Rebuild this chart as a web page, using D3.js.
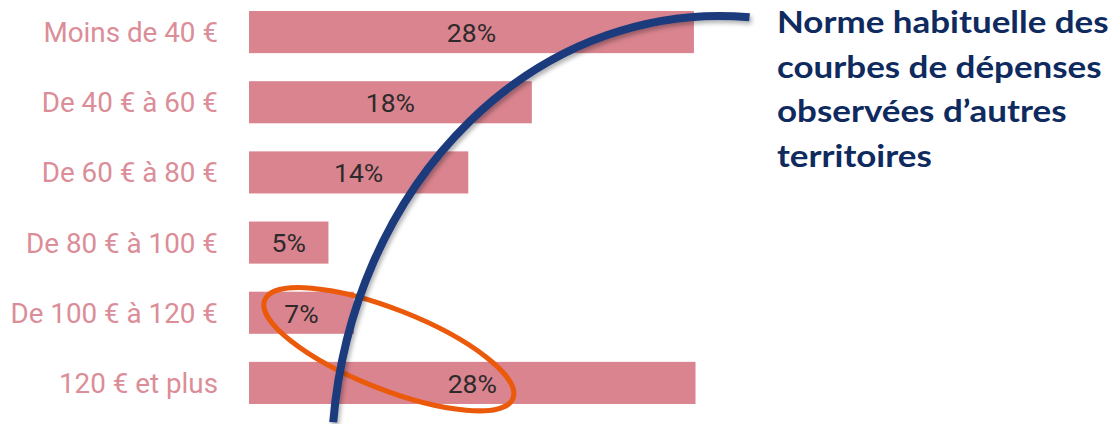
<!DOCTYPE html>
<html>
<head>
<meta charset="utf-8">
<script src="https://cdn.jsdelivr.net/npm/d3@7"></script>
<style>
  body { margin: 0; background: #fff; }
  svg { display: block; }
</style>
</head>
<body>
<svg id="drawing_region"></svg>
<script>
// tranches de dépenses et part des répondants (%)
const categories = ["Moins de 40 €", "De 40 € à 60 €", "De 60 € à 80 €", "De 80 € à 100 €", "De 100 € à 120 €", "120 € et plus"];
const values = [28.0, 17.8, 13.8, 5.0, 6.6, 28.1];

// annotation : arc "norme" (x en %, y en rang de barre)
const normeStart = [31.5, -0.21];
const normeEnd = [5.3, 5.56];
const normeRadius = [24.4, 6.41];
const normeText = ["Norme habituelle des", "courbes de dépenses", "observées d\u2019autres", "territoires"];

const config = {
  width: 1114,
  height: 424,
  left: 249,
  pxPerPct: 15.89
};

const svg = d3.select("#drawing_region")
  .attr("width", config.width)
  .attr("height", config.height);

const defs = svg.append("defs");
const shadow = defs.append("filter")
  .attr("id", "shadow")
  .attr("x", "-20%").attr("y", "-20%")
  .attr("width", "140%").attr("height", "140%");
shadow.append("feDropShadow")
  .attr("dx", 2).attr("dy", 3)
  .attr("stdDeviation", 2)
  .attr("flood-color", "#000")
  .attr("flood-opacity", 0.3);

const x = d3.scaleLinear()
  .domain([0, 28])
  .range([config.left, config.left + 28 * config.pxPerPct]);

const y = d3.scaleBand()
  .domain(categories)
  .range([-3, 418])
  .paddingInner(0.4)
  .paddingOuter(0.2);

// rang de barre -> centre vertical de la barre
const row = d3.scaleLinear()
  .domain([0, categories.length - 1])
  .range([y(categories[0]) + y.bandwidth() / 2, y(categories[categories.length - 1]) + y.bandwidth() / 2]);

const data = categories.map((c, i) => ({ label: c, value: values[i] }));

// barres
svg.append("g")
  .selectAll("rect")
  .data(data)
  .join("rect")
  .attr("x", x(0))
  .attr("y", d => y(d.label))
  .attr("width", d => x(d.value) - x(0))
  .attr("height", y.bandwidth())
  .attr("fill", "#d9848f");

// libellés de catégories
svg.append("g")
  .selectAll("text")
  .data(data)
  .join("text")
  .attr("x", x(0) - 31)
  .attr("y", d => y(d.label) + y.bandwidth() / 2)
  .attr("dy", "0.36em")
  .attr("text-anchor", "end")
  .attr("fill", "#db8d98")
  .style("font-family", "Roboto, sans-serif")
  .style("font-size", "27.8px")
  .text(d => d.label);

// valeurs dans les barres
svg.append("g")
  .selectAll("text")
  .data(data)
  .join("text")
  .attr("x", d => (x(0) + x(d.value)) / 2)
  .attr("y", d => y(d.label) + y.bandwidth() / 2)
  .attr("dy", "0.37em")
  .attr("text-anchor", "middle")
  .attr("fill", "#2e2a2b")
  .style("font-family", "Roboto, sans-serif")
  .style("font-size", "26.5px")
  .text(d => Math.round(d.value) + "%");

// ellipse orange autour des deux dernières barres
const ellCx = x(8.8), ellCy = row(4.52);
svg.append("ellipse")
  .attr("cx", 0).attr("cy", 0)
  .attr("rx", x(8.4) - x(0))
  .attr("ry", 40)
  .attr("transform", `translate(${ellCx},${ellCy}) rotate(21.6)`)
  .attr("fill", "none")
  .attr("stroke", "#eb5a0b")
  .attr("stroke-width", 5);

// arc bleu
const rx = x(normeRadius[0]) - x(0);
const ry = row(normeRadius[1]) - row(0);
svg.append("path")
  .attr("d", `M${x(normeStart[0])},${row(normeStart[1])} A${rx},${ry} 0 0 0 ${x(normeEnd[0])},${row(normeEnd[1])}`)
  .attr("fill", "none")
  .attr("stroke", "#1f3a7b")
  .attr("stroke-width", 8)
  .attr("filter", "url(#shadow)");

// texte d'annotation
svg.append("text")
  .attr("transform", "translate(777,0) scale(1.165,1)")
  .attr("fill", "#0e2a5e")
  .style("font-family", "Lato, sans-serif")
  .style("font-weight", 700)
  .style("font-size", "30px")
  .selectAll("tspan")
  .data(normeText)
  .join("tspan")
  .attr("x", 0)
  .attr("y", (d, i) => 33 + i * 44.6)
  .text(d => d);
</script>
</body>
</html>
